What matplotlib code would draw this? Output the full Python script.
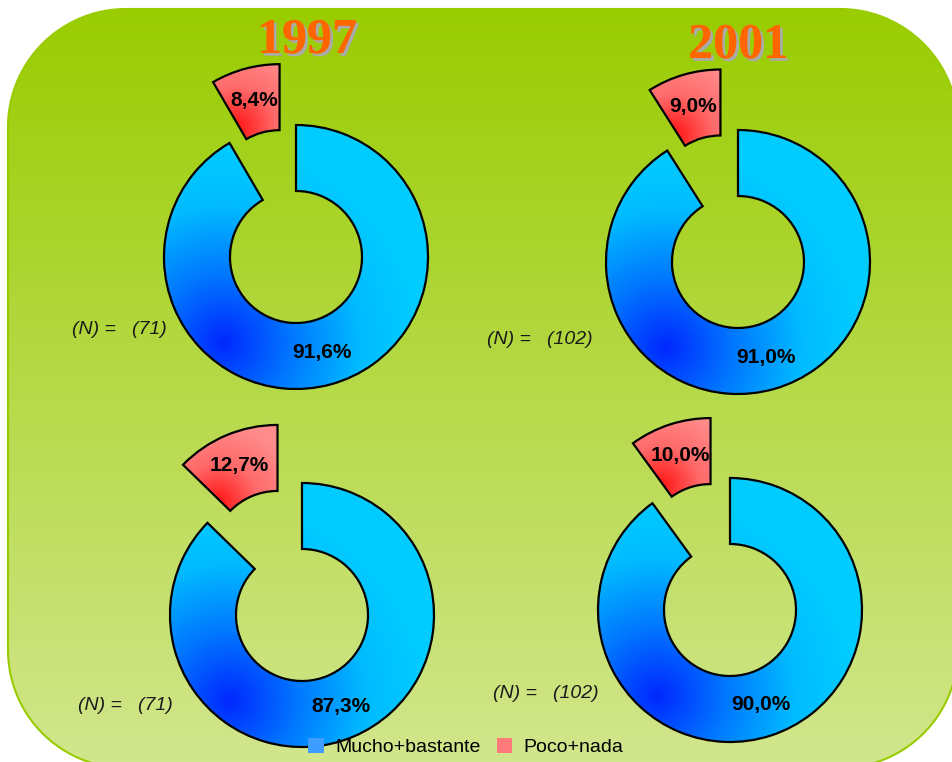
import numpy as np
import matplotlib
matplotlib.use("Agg")
import matplotlib.pyplot as plt
import matplotlib.patheffects as pe
from matplotlib.colors import LinearSegmentedColormap
from matplotlib.patches import Polygon, Patch

# ── Data ──────────────────────────────────────────────────────────────────
years = ["1997", "2001"]
mucho = [91.6, 91.0, 87.3, 90.0]      # Mucho+bastante (%)
poco = [8.4, 9.0, 12.7, 10.0]         # Poco+nada (%)
n_obs = [71, 102, 71, 102]
legend_labels = ["Mucho+bastante", "Poco+nada"]

# ── Layout (pixel coords, y measured from top) ────────────────────────────
W, H = 952, 762
centers = [(296, 257), (738, 262), (302, 615), (730, 610)]
n_pos = [(72, 330), (487, 340), (78, 705), (493, 693)]
title_pos = [(307, 41), (738, 46)]
R = 132
RING = 66
EXPLODE = 63

blue_cmap = LinearSegmentedColormap.from_list(
    "blue", [(0, "#0028ff"), (0.35, "#0078ff"), (0.7, "#00bcff"), (1, "#00ccff")])
red_cmap = LinearSegmentedColormap.from_list(
    "red", [(0, "#ff1414"), (0.5, "#ff6a6a"), (1, "#ff8c8c")])
bg_cmap = LinearSegmentedColormap.from_list("bg", ["#99cc00", "#d2e68c"])


def rounded_rect(x0, y0, x1, y1, r, n=40):
    # corners listed counter-clockwise starting at the lower right
    pts = []
    for (cx, cy, a0) in [(x1 - r, y0 + r, -90), (x1 - r, y1 - r, 0),
                         (x0 + r, y1 - r, 90), (x0 + r, y0 + r, 180)]:
        a = np.deg2rad(np.linspace(a0, a0 + 90, n))
        pts.append(np.column_stack([cx + r * np.cos(a), cy + r * np.sin(a)]))
    return np.vstack(pts)


def fill_gradient(ax, patch, cmap, focus, scale, box, z):
    x0, x1, y0, y1 = box
    xs = np.linspace(x0, x1, 300)
    ys = np.linspace(y0, y1, 300)
    X, Y = np.meshgrid(xs, ys)
    t = np.clip(np.hypot(X - focus[0], Y - focus[1]) / scale, 0, 1)
    im = ax.imshow(t, cmap=cmap, vmin=0, vmax=1, extent=(x0, x1, y0, y1),
                   origin="lower", aspect="auto", interpolation="bilinear",
                   zorder=z)
    im.set_clip_path(patch)


fig = plt.figure(figsize=(W / 100, H / 100), dpi=100)
ax = fig.add_axes([0, 0, 1, 1])
ax.set_xlim(0, W)
ax.set_ylim(0, H)
ax.axis("off")

# rounded green panel with vertical gradient (runs off the right/bottom edge)
panel = Polygon(rounded_rect(8, H - 768, 958, H - 9, 118), closed=True,
                facecolor="none", edgecolor="#99cc00", lw=1.5, zorder=0)
ax.add_patch(panel)
grad = np.linspace(1, 0, 200).reshape(-1, 1)
bg = ax.imshow(grad, cmap=bg_cmap, extent=(0, W, 0, H),
               origin="lower", aspect="auto", zorder=-1)
bg.set_clip_path(panel)

for i, (cx, cy_px) in enumerate(centers):
    cy = H - cy_px
    wedges, texts, autotexts = ax.pie(
        [mucho[i], poco[i]], startangle=90, counterclock=False,
        center=(cx, cy), radius=R, explode=[0, EXPLODE],
        autopct=lambda p: f"{p:.1f}%".replace(".", ","), pctdistance=0.75,
        wedgeprops=dict(width=RING, edgecolor="black", linewidth=1.6,
                        facecolor="none"),
        textprops=dict(fontsize=15, fontweight="bold", color="black",
                       family="Liberation Sans"),
        frame=True)
    for w in wedges:
        w.set_zorder(2)
    for t in autotexts:
        t.set_zorder(3)

    # blue ring: dark at lower left, cyan at upper right
    bw = wedges[0]
    fill_gradient(ax, bw, blue_cmap, (cx - 0.55 * R, cy - 0.65 * R), 1.5 * R,
                  (cx - R, cx + R, cy - R, cy + R), 1)

    # red wedge: dark near its left inner corner
    rw = wedges[1]
    ex, ey = rw.center
    ang = np.deg2rad(max(rw.theta1, rw.theta2) + 2)
    focus = (ex + 0.62 * R * np.cos(ang), ey + 0.62 * R * np.sin(ang))
    fill_gradient(ax, rw, red_cmap, focus, 0.6 * R,
                  (ex - R, ex + R, ey - R, ey + R), 1)

    ax.text(n_pos[i][0], H - n_pos[i][1], f"(N) =   ({n_obs[i]})",
            fontsize=14, style="italic", ha="left", va="center",
            family="Liberation Sans", color="#1a1a1a")

ax.set_xlim(0, W)
ax.set_ylim(0, H)
ax.set_aspect("auto")

for yr, (tx, ty) in zip(years, title_pos):
    ax.text(tx, H - ty, yr, fontsize=36, fontweight="bold", color="#ff6600",
            family="Liberation Serif", ha="center", va="center", zorder=4,
            path_effects=[pe.withSimplePatchShadow(offset=(2, -2),
                                                   shadow_rgbFace="#aaaaaa",
                                                   alpha=1),
                          pe.Normal()])

handles = [Patch(facecolor="#3f9dff", edgecolor="none"),
           Patch(facecolor="#ff7a7a", edgecolor="none")]
ax.legend(handles, legend_labels, loc="center", bbox_to_anchor=(466 / W, 1 - 747 / H),
          ncol=2, frameon=False, handlelength=0.8, handleheight=0.8,
          columnspacing=0.8, handletextpad=0.6,
          prop=dict(family="Liberation Sans", size=14))

fig.savefig("out.png", dpi=100, facecolor="white")
